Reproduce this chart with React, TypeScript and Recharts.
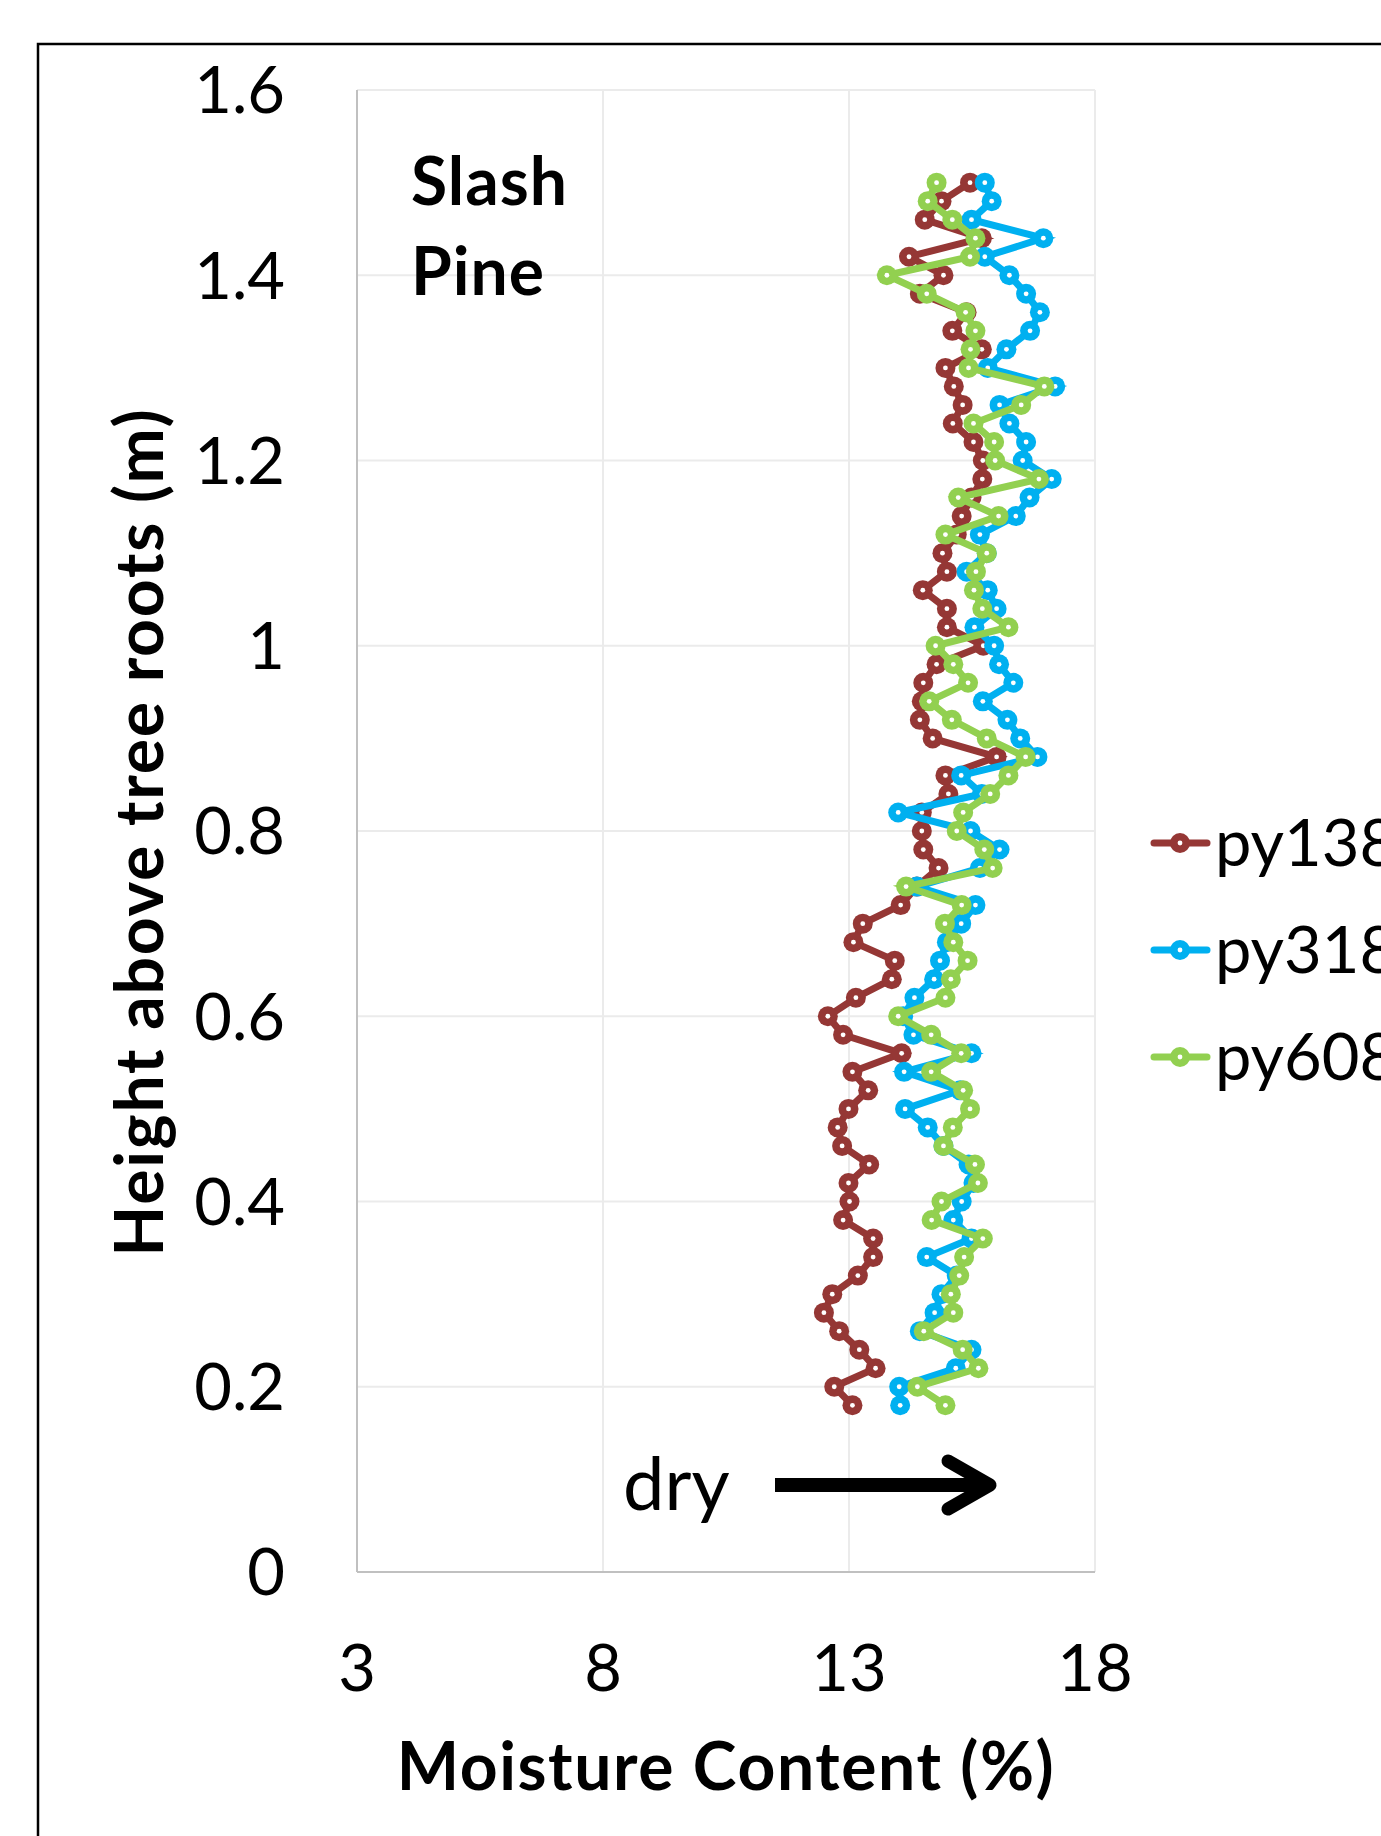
import { CartesianGrid, Scatter, ScatterChart, XAxis, YAxis } from 'recharts';

// heights above roots (m), top to bottom
const heights = [
  1.5, 1.48, 1.46, 1.44, 1.42, 1.4, 1.38, 1.36, 1.34, 1.32, 1.3, 1.28, 1.26, 1.24, 1.22, 1.2, 1.18,
  1.16, 1.14, 1.12, 1.1, 1.08, 1.06, 1.04, 1.02, 1.0, 0.98, 0.96, 0.94, 0.92, 0.9, 0.88, 0.86, 0.84,
  0.82, 0.8, 0.78, 0.76, 0.74, 0.72, 0.7, 0.68, 0.66, 0.64, 0.62, 0.6, 0.58, 0.56, 0.54, 0.52, 0.5,
  0.48, 0.46, 0.44, 0.42, 0.4, 0.38, 0.36, 0.34, 0.32, 0.3, 0.28, 0.26, 0.24, 0.22, 0.2, 0.18,
];

// moisture content (%) per height
const py138 = [
  15.46, 14.88, 14.54, 15.7, 14.22, 14.92, 14.44, 15.39, 15.1, 15.7, 14.96, 15.13, 15.31, 15.11, 15.53,
  15.72, 15.71, 15.49, 15.29, 15.19, 14.9, 14.99, 14.5, 14.99, 14.99, 15.73, 14.78, 14.51, 14.48, 14.44,
  14.7, 16.0, 14.96, 15.02, 14.48, 14.48, 14.51, 14.82, 14.38, 14.05, 13.28, 13.09, 13.93, 13.87, 13.14,
  12.57, 12.88, 14.07, 13.07, 13.39, 12.99, 12.77, 12.86, 13.41, 12.99, 13.01, 12.88, 13.49, 13.49,
  13.18, 12.66, 12.49, 12.8, 13.21, 13.54, 12.7, 13.07,
];

const py318 = [
  15.76, 15.9, 15.49, 16.95, 15.76, 16.26, 16.6, 16.88, 16.68, 16.2, 15.82, 17.19, 16.06, 16.26, 16.6,
  16.53, 17.12, 16.67, 16.39, 15.66, 15.8, 15.39, 15.82, 16.0, 15.55, 15.95, 16.05, 16.34, 15.72, 16.22,
  16.48, 16.83, 15.28, 15.7, 14.0, 15.47, 16.06, 15.66, 14.38, 15.57, 15.28, 14.99, 14.85, 14.73, 14.33,
  14.1, 14.31, 15.49, 14.12, 15.26, 14.14, 14.6, 14.92, 15.43, 15.53, 15.29, 15.12, 15.49, 14.58, 15.19,
  14.88, 14.74, 14.44, 15.49, 15.17, 14.02, 14.04,
];

const py608 = [
  14.78, 14.6, 15.1, 15.57, 15.46, 13.77, 14.58, 15.37, 15.57, 15.47, 15.43, 16.97, 16.5, 15.53, 15.95,
  15.97, 16.86, 15.22, 16.04, 14.96, 15.8, 15.58, 15.54, 15.71, 16.24, 14.76, 15.12, 15.42, 14.63, 15.09,
  15.8, 16.59, 16.24, 15.87, 15.32, 15.19, 15.75, 15.92, 14.16, 15.29, 14.95, 15.12, 15.41, 15.07, 14.96,
  14.0, 14.67, 15.28, 14.67, 15.32, 15.46, 15.11, 14.92, 15.56, 15.62, 14.88, 14.68, 15.72, 15.34, 15.24,
  15.07, 15.12, 14.52, 15.31, 15.63, 14.39, 14.96,
];

const xTicks = [3, 8, 13, 18];
const yTicks = [0, 0.2, 0.4, 0.6, 0.8, 1, 1.2, 1.4, 1.6];

const seriesNames = ['py138', 'py318', 'py608'];
const seriesValues = [py138, py318, py608];
const seriesColors = ['#953735', '#00b0f0', '#92d050'];

const FONT = 'Lato, "Open Sans", sans-serif';

const toPoints = (values: number[]) => values.map((v, i) => ({ moisture: v, height: heights[i] }));

const Marker = ({ cx, cy, color }: { cx?: number; cy?: number; color: string }) => {
  if (cx == null || cy == null) return null;
  return (
    <g>
      <circle cx={cx} cy={cy} r={10} fill={color} />
      <circle cx={cx} cy={cy} r={2.4} fill="#fff" />
    </g>
  );
};

const XTick = ({ x, y, payload }: any) => (
  <text x={x} y={y} dy="0.36em" textAnchor="middle" fontSize={65} fontFamily={FONT} fill="#000">
    {payload.value}
  </text>
);

const YTick = ({ x, y, payload }: any) => (
  <text x={x} y={y} dy="0.36em" textAnchor="end" fontSize={65} fontFamily={FONT} fill="#000">
    {payload.value}
  </text>
);

export default function App() {
  return (
    <div
      style={{
        position: 'absolute',
        left: 0,
        top: 0,
        width: 1381,
        height: 1836,
        overflow: 'hidden',
        background: '#fff',
      }}
    >
      <div style={{ position: 'absolute', left: 0, top: 0 }}>
        <ScatterChart width={1381} height={1836} margin={{ top: 90, right: 286, bottom: 164, left: 57 }}>
          <CartesianGrid stroke="#ebebeb" strokeWidth={2} />
          <XAxis
            type="number"
            dataKey="moisture"
            domain={[3, 18]}
            ticks={xTicks}
            interval={0}
            allowDataOverflow
            height={100}
            tickSize={0}
            tickMargin={96}
            tick={XTick}
            axisLine={{ stroke: '#c0c0c0', strokeWidth: 2 }}
          />
          <YAxis
            type="number"
            dataKey="height"
            domain={[0, 1.6]}
            ticks={yTicks}
            interval={0}
            allowDataOverflow
            width={300}
            tickSize={0}
            tickMargin={72}
            tick={YTick}
            axisLine={{ stroke: '#c0c0c0', strokeWidth: 2 }}
          />
          {seriesNames.map((name, i) => (
            <Scatter
              key={name}
              name={name}
              data={toPoints(seriesValues[i])}
              fill={seriesColors[i]}
              line={{ stroke: seriesColors[i], strokeWidth: 7 }}
              shape={(p: any) => <Marker cx={p.cx} cy={p.cy} color={seriesColors[i]} />}
              isAnimationActive={false}
            />
          ))}
        </ScatterChart>
      </div>

      <svg
        width={1381}
        height={1836}
        style={{ position: 'absolute', left: 0, top: 0, pointerEvents: 'none' }}
        fontFamily={FONT}
      >
        <rect x={38} y={44} width={1500} height={1900} fill="none" stroke="#000" strokeWidth={2.5} />

        <text x={411} y={205} fontSize={66} fontWeight={700} letterSpacing={1} fill="#000">
          Slash
        </text>
        <text x={411} y={295} fontSize={66} fontWeight={700} letterSpacing={1} fill="#000">
          Pine
        </text>

        <text
          transform="translate(163,832) rotate(-90)"
          textAnchor="middle"
          fontSize={66}
          fontWeight={700}
          letterSpacing={1.8}
          fill="#000"
        >
          Height above tree roots (m)
        </text>
        <text x={726} y={1790} textAnchor="middle" fontSize={66} fontWeight={700} letterSpacing={1.6} fill="#000">
          Moisture Content (%)
        </text>

        <text x={623} y={1510} fontSize={74} fill="#000">
          dry
        </text>
        <line x1={775} y1={1485} x2={985} y2={1485} stroke="#000" strokeWidth={14} />
        <polyline
          points="948,1461 990,1485 948,1509"
          fill="none"
          stroke="#000"
          strokeWidth={13}
          strokeLinecap="round"
          strokeLinejoin="round"
        />

        {seriesNames.map((name, i) => {
          const cy = 843 + i * 107;
          return (
            <g key={name}>
              <line x1={1154} y1={cy} x2={1207} y2={cy} stroke={seriesColors[i]} strokeWidth={7} strokeLinecap="round" />
              <Marker cx={1180} cy={cy} color={seriesColors[i]} />
              <text x={1215} y={cy} dy="0.36em" fontSize={65} fill="#000">
                {name}
              </text>
            </g>
          );
        })}
      </svg>
    </div>
  );
}
